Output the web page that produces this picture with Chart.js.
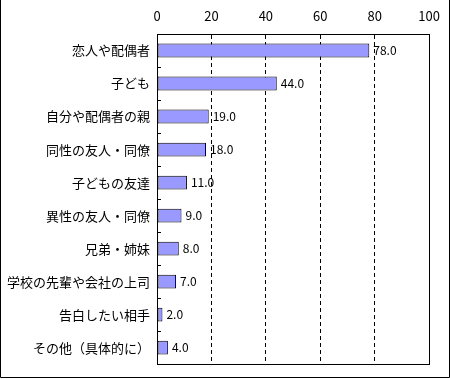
<!DOCTYPE html>
<html>
<head>
<meta charset="utf-8">
<script src="https://cdn.jsdelivr.net/npm/chart.js@4"></script>
<style>
  html, body { margin: 0; padding: 0; background: #fff; }
  #wrap { width: 450px; height: 379px; position: relative; }
</style>
</head>
<body>
<div id="wrap"><canvas id="myChart" width="450" height="379"></canvas></div>
<script>
var categories = ['恋人や配偶者', '子ども', '自分や配偶者の親', '同性の友人・同僚', '子どもの友達',
                  '異性の友人・同僚', '兄弟・姉妹', '学校の先輩や会社の上司', '告白したい相手', 'その他（具体的に）'];
var values = [78.0, 44.0, 19.0, 18.0, 11.0, 9.0, 8.0, 7.0, 2.0, 4.0];
var axisMin = 0;
var axisMax = 100;
var axisStep = 20;

var fontFamily = '"Noto Sans CJK JP", sans-serif';

// frame, inner ticks on category axis, outer border
var framePlugin = {
    id: 'frame',
    afterDraw: function(chart) {
        var ctx = chart.ctx;
        var a = chart.chartArea;
        var y = chart.scales.y;
        ctx.save();
        ctx.strokeStyle = '#000';
        ctx.lineWidth = 1;
        ctx.strokeRect(Math.round(a.left) + 0.5, Math.round(a.top) + 0.5,
                       Math.round(a.right - a.left), Math.round(a.bottom - a.top));
        ctx.beginPath();
        for (var i = 1; i < categories.length; i++) {
            var py = Math.round((y.getPixelForValue(i - 1) + y.getPixelForValue(i)) / 2) + 0.5;
            ctx.moveTo(a.left, py);
            ctx.lineTo(a.left + 4, py);
        }
        ctx.stroke();
        // outer border (left, right, bottom)
        ctx.beginPath();
        ctx.moveTo(0.5, 0);
        ctx.lineTo(0.5, 377.5);
        ctx.lineTo(449.5, 377.5);
        ctx.lineTo(449.5, 0);
        ctx.stroke();
        ctx.restore();
    }
};

var valueLabels = {
    id: 'valueLabels',
    afterDatasetsDraw: function(chart) {
        var ctx = chart.ctx;
        var meta = chart.getDatasetMeta(0);
        ctx.save();
        ctx.font = '12px ' + fontFamily;
        ctx.fillStyle = '#000';
        ctx.textBaseline = 'middle';
        ctx.textAlign = 'left';
        meta.data.forEach(function(bar, i) {
            ctx.fillText(values[i].toFixed(1), bar.x + 4, bar.y);
        });
        ctx.restore();
    }
};

const ctx = document.getElementById('myChart').getContext('2d');
const myChart = new Chart(ctx, {
    type: 'bar',
    data: {
        labels: categories,
        datasets: [{
            data: values,
            backgroundColor: '#9999ff',
            borderColor: '#000',
            borderWidth: 1,
            borderSkipped: false,
            categoryPercentage: 1,
            barPercentage: 0.42
        }]
    },
    options: {
        indexAxis: 'y',
        responsive: false,
        animation: false,
        layout: { padding: { left: 0, top: 0, right: 20, bottom: 7 } },
        plugins: {
            legend: { display: false },
            tooltip: { enabled: false }
        },
        scales: {
            x: {
                position: 'top',
                min: axisMin,
                max: axisMax,
                afterFit: function(scale) { scale.height = 34; },
                ticks: {
                    stepSize: axisStep,
                    padding: 10,
                    color: '#000',
                    font: { family: fontFamily, size: 13 }
                },
                grid: {
                    drawTicks: false,
                    color: function(c) {
                        return (c.tick && (c.tick.value === axisMin || c.tick.value === axisMax)) ? 'rgba(0,0,0,0)' : '#000';
                    },
                    lineWidth: 1
                },
                border: { display: true, color: '#000', width: 1, dash: [4, 3] }
            },
            y: {
                afterFit: function(scale) { scale.width = 157; },
                ticks: {
                    padding: 7,
                    color: '#000',
                    font: { family: fontFamily, size: 13 }
                },
                grid: { display: false, drawTicks: false },
                border: { display: true, color: '#000', width: 1 }
            }
        }
    },
    plugins: [framePlugin, valueLabels]
});
</script>
</body>
</html>
